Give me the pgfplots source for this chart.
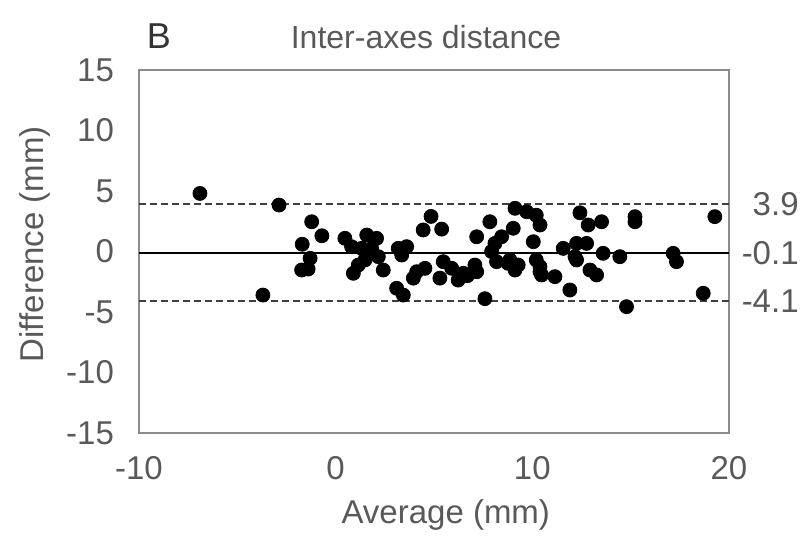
\documentclass[border=0pt]{standalone}
\usepackage{pgfplots}
\pgfplotsset{compat=1.18}
\usepackage{fontspec}
\setmainfont{Liberation Sans}

\definecolor{txt}{HTML}{595959}
\definecolor{framecol}{HTML}{8C8C8C}
\definecolor{dashcol}{HTML}{404040}

\begin{document}
\begin{tikzpicture}
    % keep the reference's white margins
    \path[use as bounding box] (-69.5pt,-52.5pt) rectangle (333pt,216.5pt);
    \begin{axis}[
        at={(0,0)}, anchor=south west,
        width=295pt, height=181.5pt,
        scale only axis,
        xmin=-10, xmax=20,
        ymin=-15, ymax=15,
        xtick={-10,0,10,20},
        ytick={-15,-10,...,15},
        major tick length=0pt,
        axis line style={framecol, line width=0.8pt},
        tick label style={font=\fontsize{16.5}{18}\selectfont, text=txt},
        /pgf/number format/assume math mode=true,
        yticklabel style={xshift=-9pt},
        xticklabel style={yshift=-8pt},
        xlabel={Average (mm)},
        ylabel={Difference (mm)},
        label style={font=\fontsize{16.5}{18}\selectfont, text=txt},
        xlabel style={at={(axis description cs:0.52,-0.226)}, anchor=center},
        ylabel style={at={(axis description cs:-0.176,0.52)}, anchor=center},
        clip=false,
    ]
        % mean and limits of agreement
        \addplot[black, line width=0.8pt] coordinates {(-10,-0.1) (20,-0.1)};
        \addplot[dashcol, line width=1.1pt, dash pattern=on 3.5pt off 2pt] coordinates {(-10,3.9) (20,3.9)};
        \addplot[dashcol, line width=1.1pt, dash pattern=on 3.5pt off 2pt] coordinates {(-10,-4.1) (20,-4.1)};

        \addplot[only marks, mark=*, mark size=3.5pt, black] coordinates {
            (-6.9,4.8) (-2.88,3.84) (-3.7,-3.6) (-1.22,2.46) (-0.7,1.3)
            (-1.7,0.6) (-1.3,-0.56) (-1.73,-1.53) (-1.4,-1.45)
            (0.47,1.09) (0.81,0.4) (1.58,1.36) (2.08,1.09) (1.32,0.26)
            (1.83,0.26) (2.17,-0.43) (1.49,-0.7) (1.15,-1.12) (0.9,-1.8)
            (2.42,-1.53) (3.18,0.26) (3.61,0.4) (3.36,-0.29) (4.45,1.78)
            (4.85,2.9) (5.39,1.85) (4.12,-1.67) (4.54,-1.39) (3.95,-2.2)
            (3.1,-3.04) (3.44,-3.6) (5.47,-0.84) (5.9,-1.39) (5.3,-2.2)
            (6.23,-2.36) (6.49,-1.8) (6.7,-2.0) (7.08,-1.12) (7.17,-1.67)
            (7.17,1.22) (7.84,2.46) (8.44,1.22) (8.1,0.67) (7.93,0)
            (8.18,-0.84) (8.77,-0.98) (9.12,-1.53) (9.03,1.92) (9.12,3.57)
            (9.71,3.29) (10.2,3.0) (10.39,2.19) (10.05,0.81) (10.2,-0.7)
            (10.39,-1.25) (10.47,-1.94) (11.15,-2.08) (11.57,0.26)
            (12.25,0.67) (12.76,0.67) (12.17,-0.43) (13.6,-0.15)
            (14.45,-0.43) (12.93,-1.53) (13.27,-1.94) (11.91,-3.18)
            (12.42,3.2) (12.84,2.19) (13.52,2.46) (15.22,2.88) (15.22,2.46)
            (19.28,2.88) (17.16,-0.15) (17.33,-0.84) (18.69,-3.45)
            (14.79,-4.56) (7.59,-3.9) (9.28,-1.12) (10.39,-1.67)
            (8.86,-0.7) (12.25,-0.7)
        };

        \node[anchor=east, font=\fontsize{16.5}{18}\selectfont, text=txt] at (axis cs:23.9,3.9) {3.9};
        \node[anchor=east, font=\fontsize{16.5}{18}\selectfont, text=txt] at (axis cs:23.9,-0.1) {-0.1};
        \node[anchor=east, font=\fontsize{16.5}{18}\selectfont, text=txt] at (axis cs:23.9,-4.1) {-4.1};
    \end{axis}
    \node[font=\fontsize{16}{18}\selectfont, text=txt] at (143.5pt,198pt) {Inter-axes distance};
    \node[font=\fontsize{18}{20}\selectfont, text=black!80] at (10pt,198.5pt) {B};
\end{tikzpicture}
\end{document}
